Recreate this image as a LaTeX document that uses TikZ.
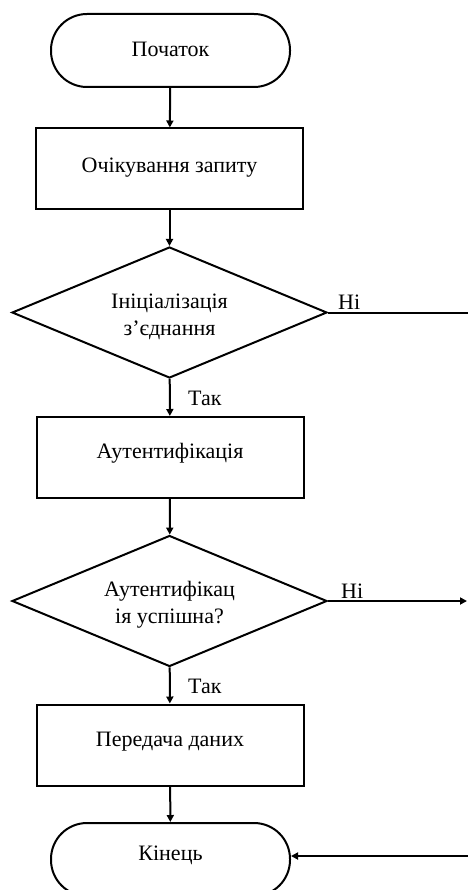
\documentclass[tikz,border=0pt]{standalone}
\usepackage{fontspec}
\setmainfont{Liberation Serif}
\usetikzlibrary{shapes.geometric, arrows.meta}
\begin{document}
\begin{tikzpicture}[x=1pt, y=-1pt,
  every node/.style={font=\fontsize{22}{27}\selectfont},
  base/.style={draw=black, line width=2pt, inner sep=0pt, align=center},
  term/.style={base, rectangle, rounded corners=36pt, minimum width=239pt, minimum height=73pt},
  proc/.style={base, rectangle, minimum width=267pt, minimum height=81pt},
  dec/.style={base, diamond, minimum width=315pt, minimum height=131pt},
  txt/.style={inner sep=0pt, align=center},
  lbl/.style={inner sep=0pt},
  conn/.style={line width=2pt},
  arr/.style={conn, -{Triangle[length=7pt, width=7pt]}}]
\useasboundingbox (0,0) rectangle (467,890);
\node[term] (start) at (170.5,50.5) {};
\node[txt] (startt) at (170.5,49.5) {Початок};
\node[proc] (b1) at (169.5,169) {};
\node[txt] (b1t) at (169.5,167.5) {Очікування запиту};
\node[dec] (d1) at (169.5,312.5) {};
\node[txt] (d1t) at (169.5,317) {Ініціалізація\\з’єднання};
\node[proc] (b2) at (170,457.5) {};
\node[txt] (b2t) at (170,453.5) {Аутентифікація};
\node[dec] (d2) at (169.5,601) {};
\node[txt] (d2t) at (169.5,605) {Аутентифікац\\ія успішна?};
\node[proc] (b3) at (170,745) {};
\node[txt] (b3t) at (170,741.5) {Передача даних};
\node[term] (end) at (170.5,859.5) {};
\node[txt] (endt) at (170.5,855) {Кінець};
\coordinate (r1) at (468,312.5);
\coordinate (r2) at (467,601);
\coordinate (r3) at (468,856);
\draw[arr] (start) -- (b1);
\draw[arr] (b1) -- (d1);
\draw[conn] (d1.east) -- (r1);
\node[lbl, anchor=south west] (n1) at (338,310) {Ні};
\draw[arr] (d1) -- (b2);
\node[lbl, anchor=west] (y1) at (188,398) {Так};
\draw[arr] (b2) -- (d2);
\draw[arr] (d2.east) -- (r2);
\node[lbl, anchor=south west] (n2) at (341,599) {Ні};
\draw[arr] (d2) -- (b3);
\node[lbl, anchor=west] (y2) at (188,686) {Так};
\draw[arr] (b3) -- (end);
\draw[arr] (r3) -- (end.east |- r3);
\end{tikzpicture}
\end{document}
